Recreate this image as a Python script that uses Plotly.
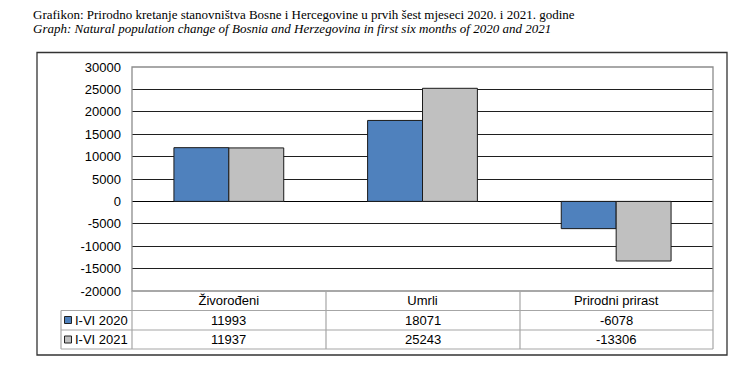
import plotly.graph_objects as go

categories = ["Živorođeni", "Umrli", "Prirodni prirast"]
series_names = ["I-VI 2020", "I-VI 2021"]
values_2020 = [11993, 18071, -6078]
values_2021 = [11937, 25243, -13306]
y_ticks = [30000, 25000, 20000, 15000, 10000, 5000, 0, -5000, -10000, -15000, -20000]
title_line1 = "Grafikon: Prirodno kretanje stanovništva Bosne i Hercegovine u prvih šest mjeseci 2020. i 2021. godine"
title_line2 = "Graph: Natural population change of Bosnia and Herzegovina in first six months of 2020 and 2021"

colors = ["#4F81BD", "#C0C0C0"]
W_, H_ = 743, 370
L, R, T, B = 132, 713, 67, 291
PW, PH = R - L, B - T

def px(x):
    return (x - L) / PW

def py(y):
    return (B - y) / PH

fig = go.Figure()
for name, vals, col in zip(series_names, [values_2020, values_2021], colors):
    fig.add_trace(go.Bar(x=categories, y=vals, name=name, marker=dict(color=col, line=dict(color="#1a1a1a", width=1)), showlegend=False))

font_sans = "Liberation Sans, Arial, sans-serif"
fig.update_layout(
    width=W_, height=H_,
    margin=dict(l=L, r=W_ - R, t=T, b=H_ - B),
    paper_bgcolor="white", plot_bgcolor="white",
    barmode="group", bargap=0.433, bargroupgap=0,
    font=dict(family=font_sans, size=13, color="#000"),
    xaxis=dict(showgrid=False, showline=False, ticks="", tickfont=dict(size=13), ticklabelstandoff=0, fixedrange=True),
    yaxis=dict(range=[-20000, 30000], tickvals=y_ticks, ticktext=[str(v) for v in y_ticks],
               showgrid=True, gridcolor="#1f1f1f", gridwidth=1, zeroline=True, zerolinecolor="#000", zerolinewidth=1,
               showline=False, ticks="", ticklabelstandoff=10, tickfont=dict(size=13)),
)

shapes = []
# outer box
shapes.append(dict(type="rect", xref="paper", yref="paper", x0=px(37), x1=px(727), y0=py(355), y1=py(52.5),
                   line=dict(color="#333", width=1.3), layer="below"))
# plot area border
shapes.append(dict(type="rect", xref="paper", yref="paper", x0=0, x1=1, y0=0, y1=1,
                   line=dict(color="#8c8c8c", width=1.3), layer="above"))
tbl = "#a6a6a6"
# table horizontal lines
for yy, x0 in [(310.5, 61), (330, 61), (349, 61)]:
    shapes.append(dict(type="line", xref="paper", yref="paper", x0=px(x0), x1=1, y0=py(yy), y1=py(yy), line=dict(color=tbl, width=1.2)))
# vertical lines
shapes.append(dict(type="line", xref="paper", yref="paper", x0=px(61), x1=px(61), y0=py(310.5), y1=py(349), line=dict(color=tbl, width=1.2)))
for xx in [132, 326, 520, 713]:
    shapes.append(dict(type="line", xref="paper", yref="paper", x0=px(xx), x1=px(xx), y0=py(291), y1=py(349), line=dict(color=tbl, width=1.2)))

annotations = []
row_y = [320, 339.5]
for i, (name, vals, col) in enumerate(zip(series_names, [values_2020, values_2021], colors)):
    yc = row_y[i]
    shapes.append(dict(type="rect", xref="paper", yref="paper", x0=px(64.5), x1=px(71.5), y0=py(yc + 3.5), y1=py(yc - 3.5),
                       fillcolor=col, line=dict(color="#222", width=1)))
    annotations.append(dict(text=name, xref="paper", yref="paper", x=px(72.5), y=py(yc), xanchor="left", yanchor="middle",
                            showarrow=False, font=dict(size=13)))
    for c, v in zip(categories, vals):
        annotations.append(dict(text=str(v), xref="x", yref="paper", x=c, y=py(yc), xanchor="center", yanchor="middle",
                                showarrow=False, font=dict(size=13)))

annotations.append(dict(text=title_line1, xref="paper", yref="paper", x=px(31), y=py(14), xanchor="left", yanchor="middle",
                        showarrow=False, font=dict(family="Liberation Serif, serif", size=13)))
annotations.append(dict(text="<i>" + title_line2 + "</i>", xref="paper", yref="paper", x=px(31), y=py(28.5), xanchor="left", yanchor="middle",
                        showarrow=False, font=dict(family="Liberation Serif, serif", size=13)))

fig.update_layout(shapes=shapes, annotations=annotations)
fig.write_html("out.html", config={"displayModeBar": False, "staticPlot": True},
               post_script="document.body.style.margin='0';document.body.style.overflow='hidden';")
